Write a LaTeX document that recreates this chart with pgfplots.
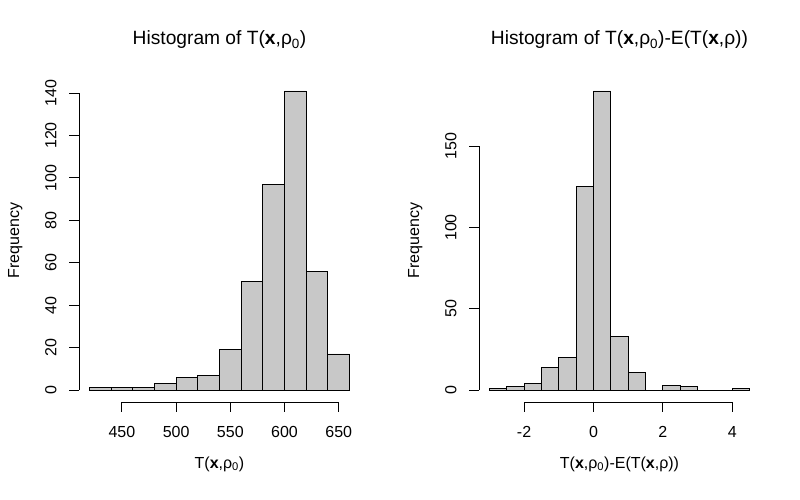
\documentclass[border=0pt]{standalone}
\usepackage{fontspec}
\setmainfont{Liberation Sans}
\usepackage{pgfplots}
\pgfplotsset{compat=1.18}

\definecolor{barfill}{RGB}{200,200,200}

% R base-graphics look: open axes, outward ticks, axis lines only between end ticks
\pgfplotsset{
  rhist/.style={
    scale only axis, width=281bp, height=323bp,
    anchor=south west,
    axis lines*=left, axis line style={draw=none},
    clip=false,
    tick align=outside, major tick length=9.6bp,
    tick style={black, line width=0.9bp},
    /pgf/number format/assume math mode=true,
    tick label style={font=\fontsize{16bp}{19bp}\selectfont, inner sep=0pt},
    xticklabel style={anchor=base},
    xticklabel shift=25.5bp,
    yticklabel style={rotate=90, anchor=base},
    yticklabel shift=13bp,
    label style={font=\fontsize{16bp}{19bp}\selectfont, inner sep=0pt},
    xlabel style={at={(axis description cs:0.5,-0.205)}, anchor=base},
    ylabel style={at={(axis description cs:-0.2135,0.5)}, anchor=base, rotate=0},
    title style={at={(axis description cs:0.5,1.087)}, anchor=base,
      font=\fontsize{19.2bp}{23bp}\selectfont, inner sep=0pt},
  },
  rbars/.style={ybar interval, fill=barfill, draw=black, line width=0.9bp},
}

\begin{document}
\begin{tikzpicture}
\path[use as bounding box] (0,0) rectangle (800bp,500bp);

\begin{axis}[rhist, at={(79bp,98bp)},
  xmin=410.4, xmax=669.6, ymin=-5.64, ymax=146.64,
  xtick={450,500,550,600,650}, ytick={0,20,40,60,80,100,120,140},
  title={Histogram of T(\textbf{x},ρ\textsubscript{0})},
  xlabel={T(\textbf{x},ρ\textsubscript{0})},
  ylabel={Frequency}]
  \addplot[rbars] coordinates {
    (420,1) (440,1) (460,1) (480,3) (500,6) (520,7) (540,19)
    (560,51) (580,97) (600,141) (620,56) (640,17) (660,17)
  };
  \draw[line width=0.9bp] (axis cs:450,-5.64) -- (axis cs:650,-5.64);
  \draw[line width=0.9bp] (axis cs:410.4,0) -- (axis cs:410.4,140);
\end{axis}

\begin{axis}[rhist, at={(479bp,98bp)},
  xmin=-3.3, xmax=4.8, ymin=-7.36, ymax=191.36,
  xtick={-2,0,2,4}, ytick={0,50,100,150},
  title={Histogram of T(\textbf{x},ρ\textsubscript{0})-E(T(\textbf{x},ρ))},
  xlabel={T(\textbf{x},ρ\textsubscript{0})-E(T(\textbf{x},ρ))},
  ylabel={Frequency}]
  \addplot[rbars] coordinates {
    (-3,1) (-2.5,2) (-2,4) (-1.5,14) (-1,20) (-0.5,125) (0,184)
    (0.5,33) (1,11) (1.5,0) (2,3) (2.5,2) (3,0) (3.5,0) (4,1) (4.5,1)
  };
  \draw[line width=0.9bp] (axis cs:-2,-7.36) -- (axis cs:4,-7.36);
  \draw[line width=0.9bp] (axis cs:-3.3,0) -- (axis cs:-3.3,150);
\end{axis}
\end{tikzpicture}
\end{document}
